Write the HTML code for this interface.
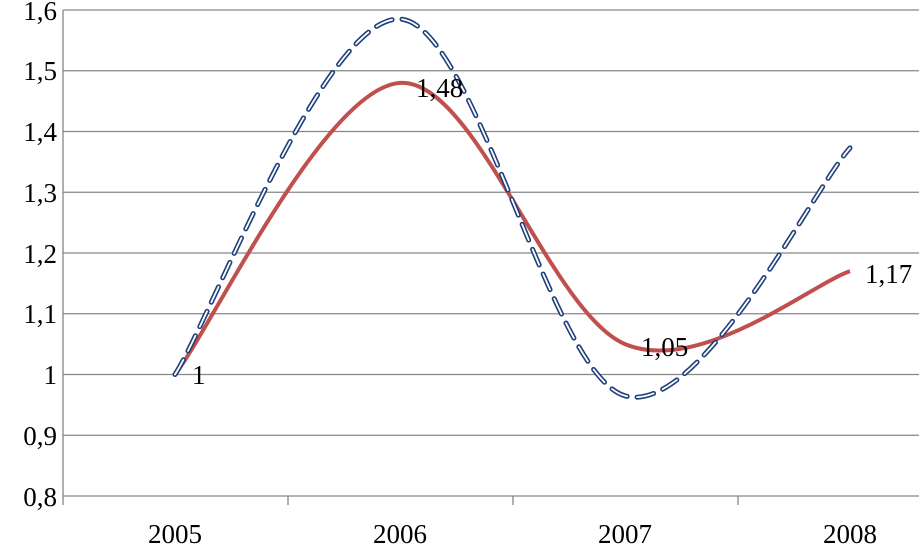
<!DOCTYPE html>
<html><head><meta charset="utf-8"><style>body{margin:0;background:#fff}svg{display:block}</style></head>
<body>
<svg width="919" height="547" viewBox="0 0 919 547" xmlns="http://www.w3.org/2000/svg" font-family="'Liberation Serif', serif" font-size="27" fill="#000">
<g stroke="#868686" stroke-width="1.3">
<line x1="63" y1="10" x2="919" y2="10"/><line x1="63" y1="70.75" x2="919" y2="70.75"/>
<line x1="63" y1="131.5" x2="919" y2="131.5"/><line x1="63" y1="192.25" x2="919" y2="192.25"/>
<line x1="63" y1="253" x2="919" y2="253"/><line x1="63" y1="313.75" x2="919" y2="313.75"/>
<line x1="63" y1="374.5" x2="919" y2="374.5"/><line x1="63" y1="435.25" x2="919" y2="435.25"/>
<line x1="63" y1="496" x2="919" y2="496"/>
<line x1="63" y1="10" x2="63" y2="505"/><line x1="288" y1="496" x2="288" y2="505"/>
<line x1="513" y1="496" x2="513" y2="505"/><line x1="738" y1="496" x2="738" y2="505"/>
</g>
<g text-anchor="end">
<text x="57" y="20">1,6</text><text x="57" y="80">1,5</text><text x="57" y="141">1,4</text>
<text x="57" y="202">1,3</text><text x="57" y="263">1,2</text><text x="57" y="323">1,1</text>
<text x="57" y="384">1</text><text x="57" y="445">0,9</text><text x="57" y="506">0,8</text>
</g>
<g text-anchor="middle">
<text x="175" y="543">2005</text><text x="400" y="543">2006</text><text x="625" y="543">2007</text><text x="850" y="543">2008</text>
</g>
<path d="M175,374.5 C212.5,325.9 325,88 400,82.9 C475,77.8 550,312.7 625,344.1 C700,375.5 812.5,283.4 850,271.2" fill="none" stroke="#C0504D" stroke-width="4"/>
<path d="M175,374.5 C212.5,315.3 325,15.05 400,19.1 C475,23.15 550,374.3 625,395.8 C700,417.3 812.5,189.7 850,147.9" fill="none" stroke="#1F3F7A" stroke-width="5" stroke-dasharray="17 10" stroke-linecap="round"/>
<path d="M175,374.5 C212.5,315.3 325,15.05 400,19.1 C475,23.15 550,374.3 625,395.8 C700,417.3 812.5,189.7 850,147.9" fill="none" stroke="#fff" stroke-width="1.8" stroke-dasharray="17 10" stroke-linecap="round"/>
<text x="192" y="384">1</text><text x="416" y="97">1,48</text><text x="641" y="356">1,05</text><text x="865" y="283">1,17</text>
</svg>
</body></html>
